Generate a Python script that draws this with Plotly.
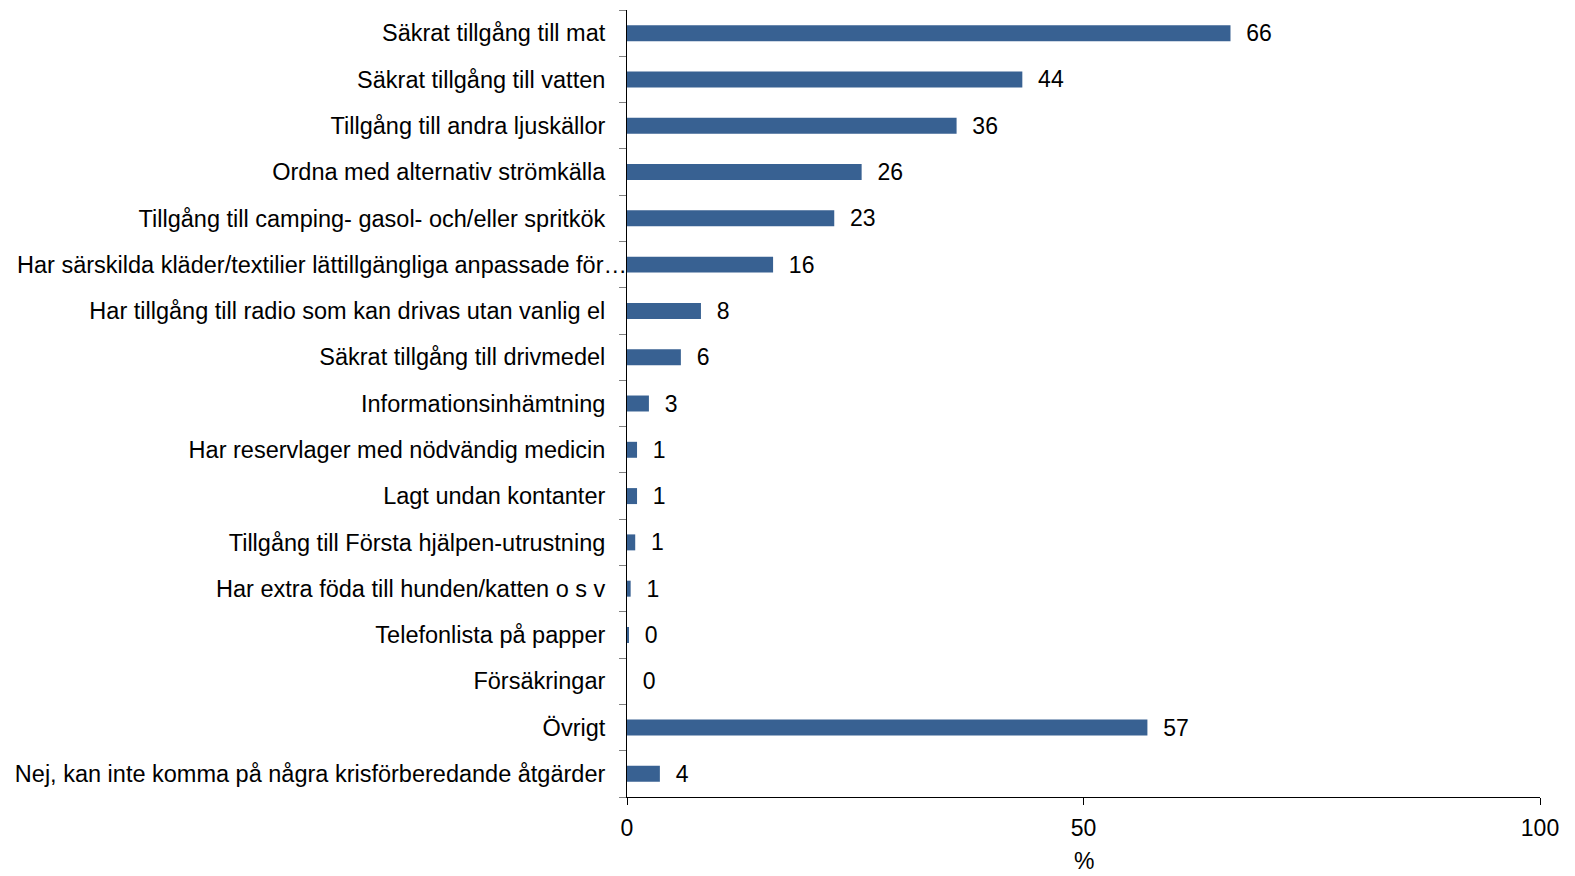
import plotly.graph_objects as go

categories = [
    "Säkrat tillgång till mat",
    "Säkrat tillgång till vatten",
    "Tillgång till andra ljuskällor",
    "Ordna med alternativ strömkälla",
    "Tillgång till camping- gasol- och/eller spritkök",
    "Har särskilda kläder/textilier lättillgängliga anpassade för…",
    "Har tillgång till radio som kan drivas utan vanlig el",
    "Säkrat tillgång till drivmedel",
    "Informationsinhämtning",
    "Har reservlager med nödvändig medicin",
    "Lagt undan kontanter",
    "Tillgång till Första hjälpen-utrustning",
    "Har extra föda till hunden/katten o s v",
    "Telefonlista på papper",
    "Försäkringar",
    "Övrigt",
    "Nej, kan inte komma på några krisförberedande åtgärder",
]
values = [66.1, 43.3, 36.1, 25.7, 22.7, 16.0, 8.1, 5.9, 2.4, 1.1, 1.1, 0.9, 0.4, 0.2, 0.0, 57.0, 3.6]
labels = ["66", "44", "36", "26", "23", "16", "8", "6", "3", "1", "1", "1", "1", "0", "0", "57", "4"]

x_ticks = [0, 50, 100]
x_title = "%"

# the truncated label runs right up to the axis in the reference
long_label = categories[5]

FONT = "Liberation Sans, Arial, sans-serif"

fig = go.Figure(
    go.Bar(
        y=categories,
        x=values,
        orientation="h",
        marker=dict(color="#386192", line=dict(width=0)),
        text=["\u00a0\u00a0" + t for t in labels],
        textposition="outside",
        constraintext="none",
        textfont=dict(size=23, color="#000000", family=FONT),
        cliponaxis=False,
    )
)

fig.add_annotation(
    x=0, xref="paper", xanchor="right", xshift=0,
    y=long_label, yref="y", yanchor="middle",
    text=long_label, showarrow=False,
    font=dict(size=23.5, color="#000000", family=FONT),
    borderpad=0, borderwidth=0,
)

# x-axis title placed as an annotation (standoff is ignored without automargin)
fig.add_annotation(
    x=0.5, xref="paper", xanchor="center",
    y=0, yref="paper", yanchor="middle", yshift=-64,
    text=x_title, showarrow=False,
    font=dict(size=23, color="#000000", family=FONT),
    borderpad=0, borderwidth=0,
)

# the page body has an 8px default margin; the figure is offset by it
fig.update_layout(
    width=1559,
    height=868,
    margin=dict(l=619, r=27, t=2, b=79, autoexpand=False),
    paper_bgcolor="white",
    plot_bgcolor="white",
    bargap=0.655,
    showlegend=False,
    font=dict(family=FONT, size=23, color="#000000"),
)

fig.update_xaxes(
    range=[0, 100],
    tickvals=x_ticks,
    ticktext=[str(v) for v in x_ticks],
    showgrid=False,
    zeroline=False,
    showline=True,
    linecolor="#000000",
    linewidth=1,
    ticks="outside",
    ticklen=7,
    tickcolor="#000000",
    tickfont=dict(size=23, color="#000000"),
    ticklabelstandoff=3,
    automargin=False,
)

fig.update_yaxes(
    type="category",
    autorange="reversed",
    tickvals=categories,
    ticktext=["" if c == long_label else c for c in categories],
    showgrid=False,
    zeroline=False,
    showline=True,
    linecolor="#000000",
    linewidth=1,
    ticks="outside",
    tickson="boundaries",
    ticklen=7,
    tickcolor="#808080",
    tickfont=dict(size=23.5, color="#000000"),
    ticklabelstandoff=16,
    automargin=False,
)

fig.write_html("out.html", post_script="document.body.style.overflow='hidden';")
